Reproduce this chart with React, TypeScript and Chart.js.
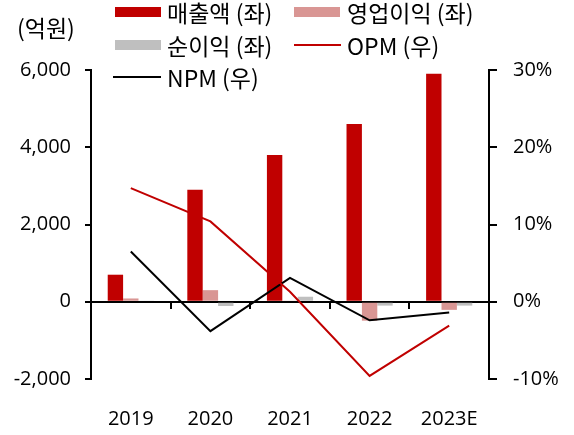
import React, { useEffect, useRef } from "react";
import { Chart, registerables } from "chart.js";

Chart.register(...registerables);

const categories = ["2019", "2020", "2021", "2022", "2023E"];
const revenue = [700, 2900, 3800, 4600, 5900];
const operatingProfit = [85, 300, 30, -490, -210];
const netProfit = [30, -110, 130, -100, -100];
const opm = [14.7, 10.4, 1.3, -9.6, -3.1];
const npm = [6.5, -3.8, 3.1, -2.4, -1.4];

const leftTicks = [-2000, 0, 2000, 4000, 6000];
const rightTicks = [-10, 0, 10, 20, 30];

const unitLabel = "(억원)";
const seriesNames = ["매출액 (좌)", "영업이익 (좌)", "순이익 (좌)", "OPM (우)", "NPM (우)"];

const RED = "#C00000";
const PINK = "#D99694";
const GRAY = "#BFBFBF";
const BLACK = "#000000";
const FONT = "'Open Sans', 'Noto Sans CJK KR', sans-serif";
const KFONT = "'Noto Sans CJK KR', sans-serif";

const overlayPlugin = {
  id: "overlay",
  beforeDatasetsDraw(chart: any) {
    const ctx = chart.ctx;
    const y = chart.scales.y;
    const area = chart.chartArea;
    const y0 = Math.round(y.getPixelForValue(0));
    ctx.save();
    ctx.strokeStyle = BLACK;
    ctx.lineWidth = 2;
    ctx.beginPath();
    ctx.moveTo(area.left, y0);
    ctx.lineTo(area.right, y0);
    ctx.stroke();
    const n = categories.length;
    const w = (area.right - area.left) / n;
    for (let k = 1; k < n; k++) {
      const px = Math.round(area.left + w * k);
      ctx.beginPath();
      ctx.moveTo(px, y0);
      ctx.lineTo(px, y0 + 7);
      ctx.stroke();
    }
    ctx.restore();
  },
  afterDraw(chart: any) {
    const ctx = chart.ctx;
    ctx.save();
    ctx.font = `23px ${KFONT}`;
    ctx.fillStyle = BLACK;
    ctx.textBaseline = "middle";
    ctx.textAlign = "left";
    ctx.fillText(unitLabel, 17, 28);

    const items = [
      { name: seriesNames[0], kind: "box", color: RED, x: 115, tx: 167, y: 12 },
      { name: seriesNames[1], kind: "box", color: PINK, x: 294, tx: 347, y: 12 },
      { name: seriesNames[2], kind: "box", color: GRAY, x: 115, tx: 167, y: 45 },
      { name: seriesNames[3], kind: "line", color: RED, x: 294, tx: 347, y: 45 },
      { name: seriesNames[4], kind: "line", color: BLACK, x: 113, tx: 167, y: 77 },
    ];
    for (const it of items) {
      if (it.kind === "box") {
        ctx.fillStyle = it.color;
        ctx.fillRect(it.x, it.y - 5, 46, 10);
      } else {
        ctx.strokeStyle = it.color;
        ctx.lineWidth = 2;
        ctx.beginPath();
        ctx.moveTo(it.x, it.y);
        ctx.lineTo(it.tx - 6, it.y);
        ctx.stroke();
      }
      ctx.fillStyle = BLACK;
      ctx.fillText(it.name, it.tx, it.y + 1);
    }
    ctx.restore();
  },
};

export default function App() {
  const ref = useRef<HTMLCanvasElement | null>(null);

  useEffect(() => {
    if (!ref.current) return;
    Chart.defaults.font.family = FONT;
    Chart.defaults.font.size = 20;
    Chart.defaults.color = BLACK;

    const barCommon = { categoryPercentage: 0.58, barPercentage: 1, order: 1, yAxisID: "y" };

    const chart = new Chart(ref.current, {
      type: "bar",
      data: {
        labels: categories,
        datasets: [
          {
            type: "line",
            label: seriesNames[3],
            data: opm,
            yAxisID: "y1",
            borderColor: RED,
            borderWidth: 2,
            pointRadius: 0,
            tension: 0,
            order: 0,
          } as any,
          {
            type: "line",
            label: seriesNames[4],
            data: npm,
            yAxisID: "y1",
            borderColor: BLACK,
            borderWidth: 2,
            pointRadius: 0,
            tension: 0,
            order: 0,
          } as any,
          { type: "bar", label: seriesNames[0], data: revenue, backgroundColor: RED, ...barCommon } as any,
          { type: "bar", label: seriesNames[1], data: operatingProfit, backgroundColor: PINK, ...barCommon } as any,
          { type: "bar", label: seriesNames[2], data: netProfit, backgroundColor: GRAY, ...barCommon } as any,
        ],
      },
      options: {
        responsive: false,
        animation: false,
        maintainAspectRatio: false,
        layout: { padding: { top: 70, left: 0, right: 0, bottom: 0 } },
        plugins: {
          legend: { display: false },
          tooltip: { enabled: false },
        },
        scales: {
          x: {
            type: "category",
            grid: { display: false, drawTicks: false },
            border: { display: false },
            ticks: { padding: 28, font: { size: 20 }, color: BLACK },
            afterFit: (s: any) => {
              s.height = 56;
            },
          },
          y: {
            position: "left",
            min: -2000,
            max: 6000,
            afterBuildTicks: (s: any) => {
              s.ticks = leftTicks.map((v) => ({ value: v }));
            },
            grid: { drawOnChartArea: false, drawTicks: true, tickLength: 6, color: BLACK, lineWidth: 2 },
            border: { display: true, color: BLACK, width: 2 },
            ticks: {
              padding: 14,
              color: BLACK,
              font: { size: 20 },
              callback: (v: any) => Number(v).toLocaleString("en-US"),
            },
            afterFit: (s: any) => {
              s.width = 91;
            },
          },
          y1: {
            position: "right",
            min: -10,
            max: 30,
            afterBuildTicks: (s: any) => {
              s.ticks = rightTicks.map((v) => ({ value: v }));
            },
            grid: { drawOnChartArea: false, drawTicks: true, tickLength: 8, color: BLACK, lineWidth: 2 },
            border: { display: true, color: BLACK, width: 2 },
            ticks: {
              padding: 16,
              color: BLACK,
              font: { size: 20 },
              callback: (v: any) => `${v}%`,
            },
            afterFit: (s: any) => {
              s.width = 85;
            },
          },
        },
      },
      plugins: [overlayPlugin],
    });
    return () => chart.destroy();
  }, []);

  return (
    <div style={{ position: "fixed", left: 0, top: 0, width: 574, height: 435, background: "#fff" }}>
      <canvas ref={ref} width={574} height={435} style={{ width: 574, height: 435, display: "block" }} />
    </div>
  );
}
